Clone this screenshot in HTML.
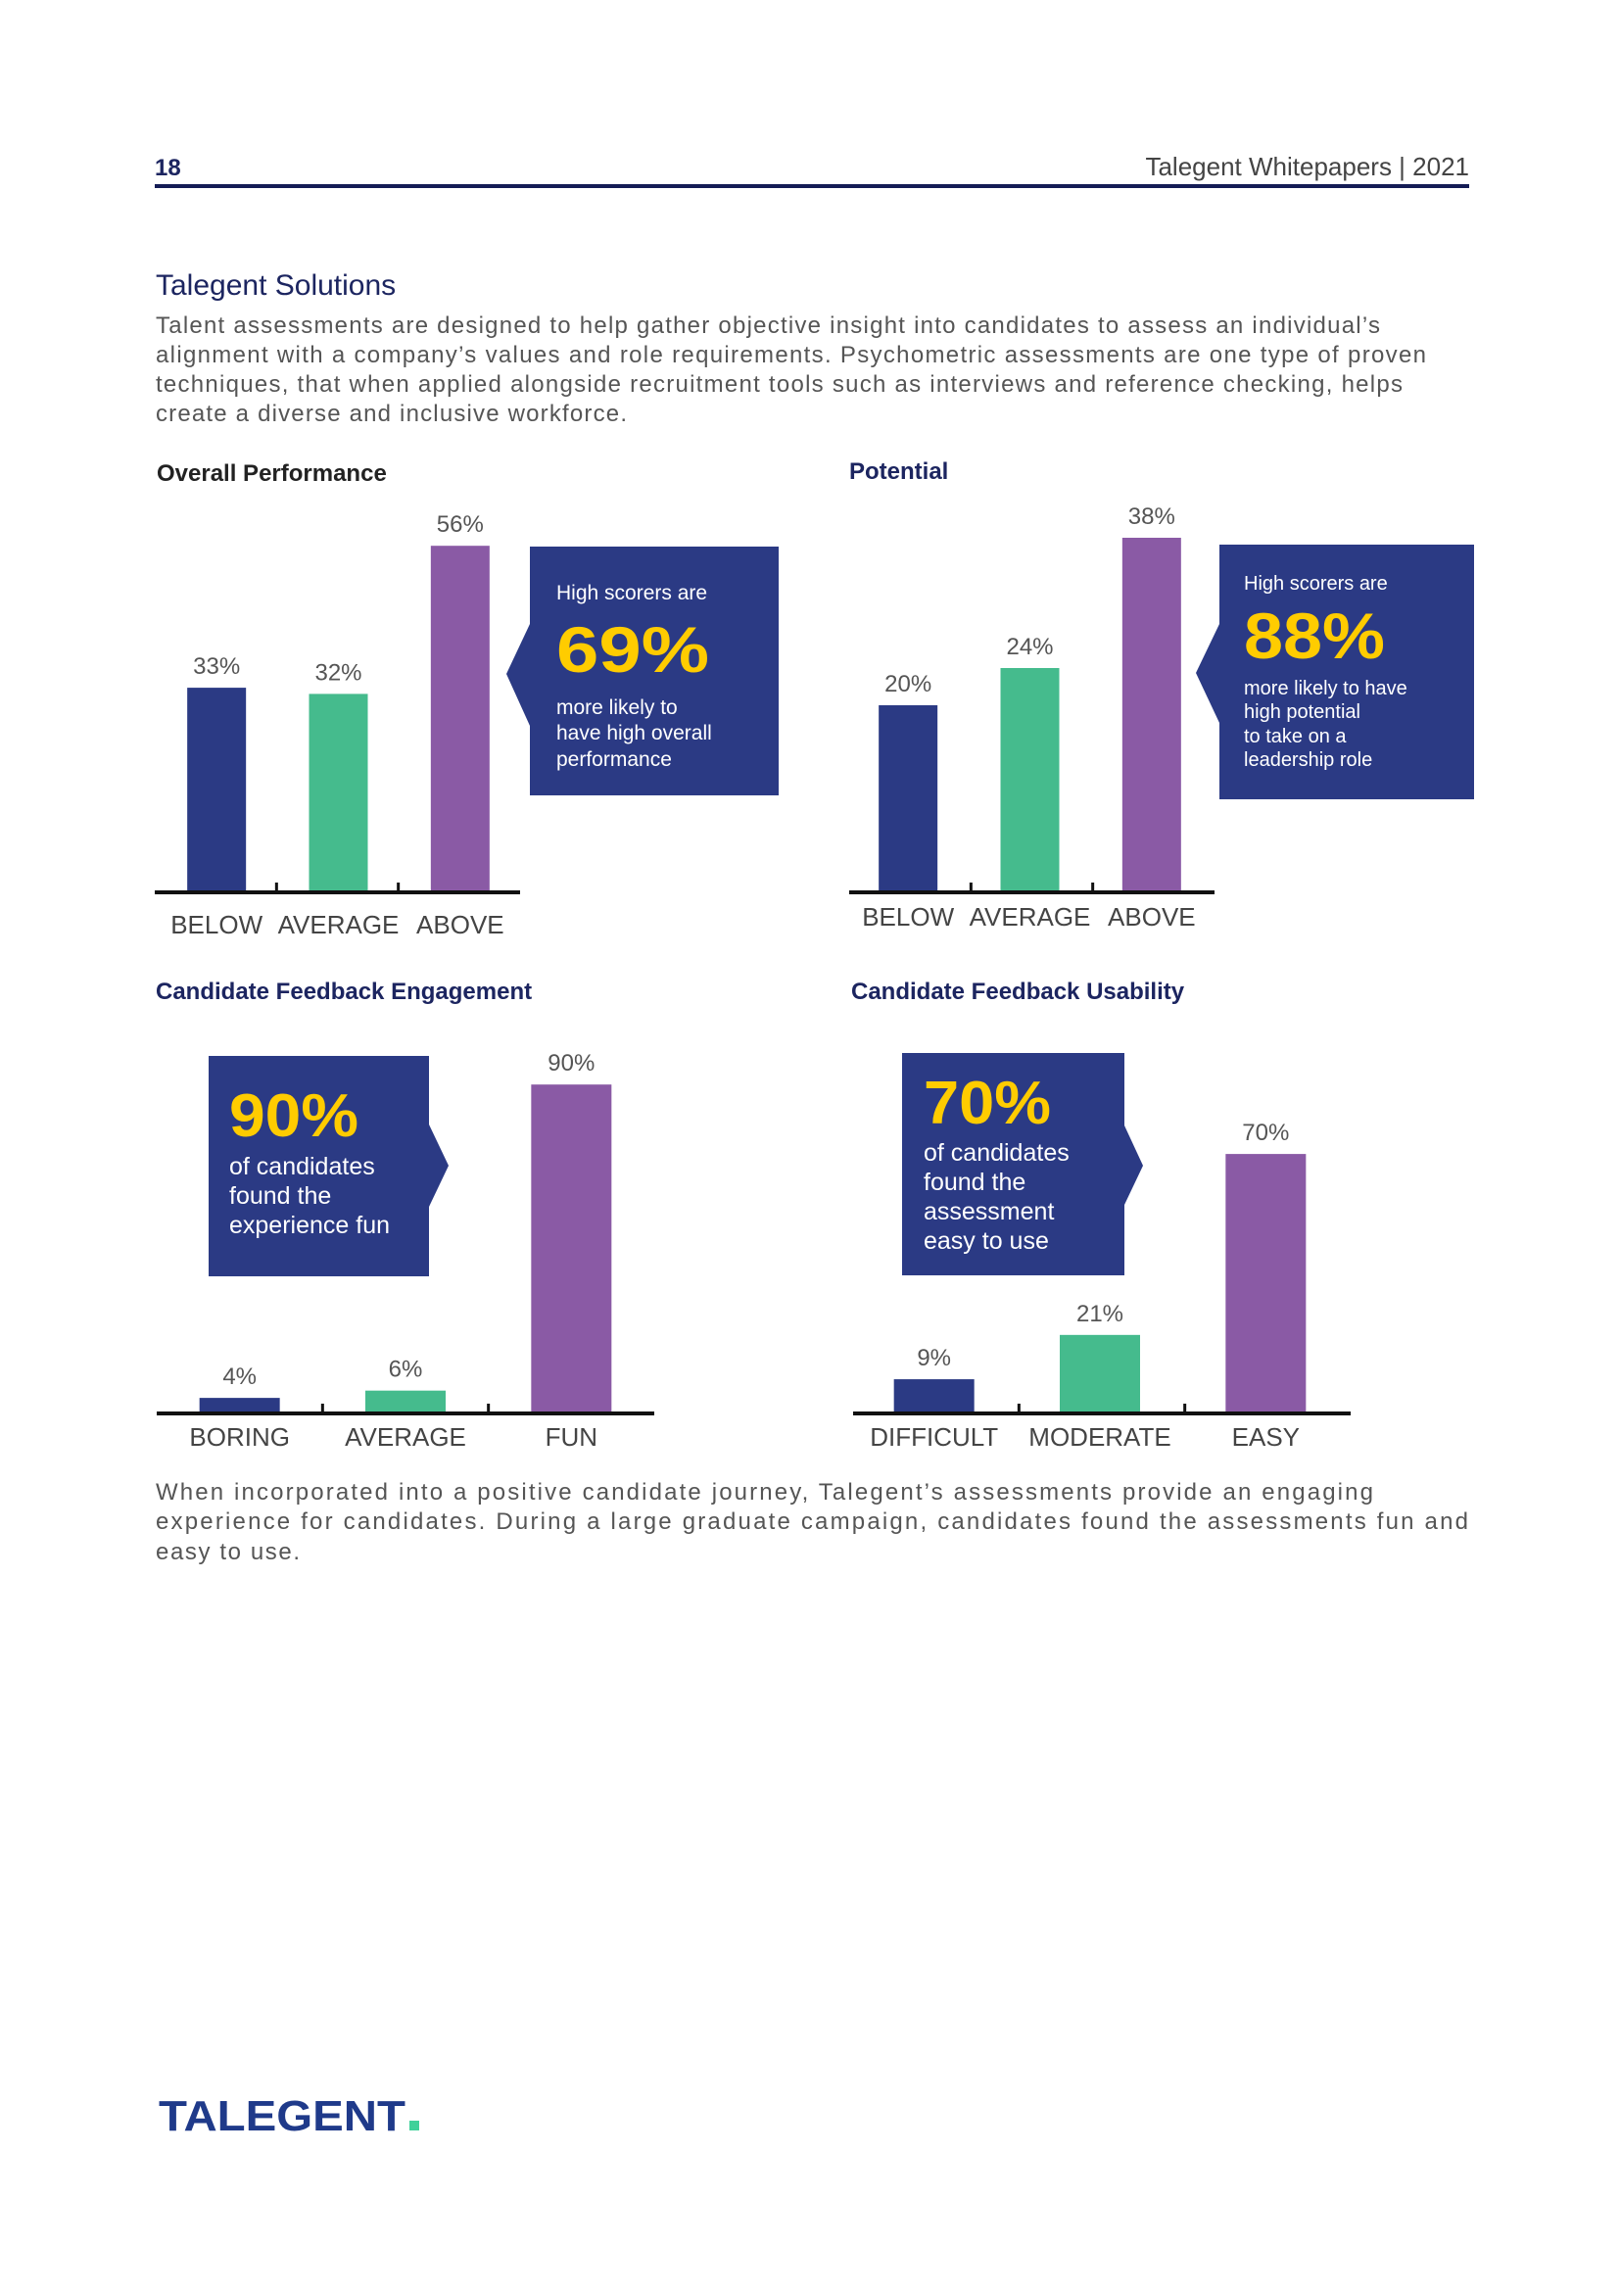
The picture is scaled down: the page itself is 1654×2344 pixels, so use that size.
<!DOCTYPE html>
<html><head><meta charset="utf-8"><style>
html,body{margin:0;padding:0;background:#fff}
body{width:1654px;height:2339px;position:relative;overflow:hidden;font-family:"Liberation Sans",sans-serif}
</style></head><body>
<svg id="page" width="1654" height="2339" viewBox="0 0 1654 2339" xmlns="http://www.w3.org/2000/svg" font-family="Liberation Sans, sans-serif">
<text x="158" y="179" font-size="24" font-weight="bold" fill="#1c2560">18</text>
<text x="1500" y="179" font-size="26" fill="#444" text-anchor="end">Talegent Whitepapers | 2021</text>
<rect x="158" y="188" width="1342" height="4" fill="#141c55"/>
<text x="159" y="301" font-size="30" fill="#1c2560">Talegent Solutions</text>
<g font-size="24" fill="#555" lengthAdjust="spacingAndGlyphs">
<text x="159" y="340" textLength="1250">Talent assessments are designed to help gather objective insight into candidates to assess an individual’s</text>
<text x="159" y="370" textLength="1297">alignment with a company’s values and role requirements. Psychometric assessments are one type of proven</text>
<text x="159" y="400" textLength="1273">techniques, that when applied alongside recruitment tools such as interviews and reference checking, helps</text>
<text x="159" y="430" textLength="481">create a diverse and inclusive workforce.</text>
</g>
<g id="charts"></g>
<g font-size="24" fill="#555">
<text x="159" y="1531" textLength="1243">When incorporated into a positive candidate journey, Talegent’s assessments provide an engaging</text>
<text x="159" y="1561" textLength="1340">experience for candidates. During a large graduate campaign, candidates found the assessments fun and</text>
<text x="159" y="1592" textLength="147">easy to use.</text>
</g>
<g>
<text x="162" y="2175" font-size="44" font-weight="bold" fill="#1f3a8a" textLength="252" lengthAdjust="spacingAndGlyphs">TALEGENT</text>
<rect x="418" y="2165" width="10" height="10" fill="#3fd19a"/>
</g>
</svg>
<script>
const perfCategories = ["BELOW","AVERAGE","ABOVE"];
const perfValues = [33,32,56];
const potCategories = ["BELOW","AVERAGE","ABOVE"];
const potValues = [20,24,38];
const engCategories = ["BORING","AVERAGE","FUN"];
const engValues = [4,6,90];
const useCategories = ["DIFFICULT","MODERATE","EASY"];
const useValues = [9,21,70];

const NS="http://www.w3.org/2000/svg";
const colors=["#2b3a84","#45bb8d","#8a5aa5"];
const root=document.getElementById('charts');
function mk(tag,attrs,parent){const e=document.createElementNS(NS,tag);for(const k in attrs)e.setAttribute(k,attrs[k]);parent.appendChild(e);return e;}

function drawChart(cfg,cats,vals){
  const g=mk('g',{},root);
  
  
  const t=mk('text',{x:cfg.titleX,y:cfg.titleY,'font-size':24,'font-weight':'bold',fill:cfg.titleColor},g);
  t.textContent=cfg.title;
  
  
  const yScale=v=>cfg.base-v*cfg.pxPerPct;
  const n=cats.length;
  const slot=(cfg.x1-cfg.x0)/n;
  const xCenter=i=>cfg.x0+slot*(i+0.5)+cfg.shift;
  for(let i=0;i<n;i++){
    const cx=xCenter(i);
    const y=yScale(vals[i]);
    const b=mk('rect',{x:cx-cfg.bw/2,y:y,width:cfg.bw,height:cfg.base-y,fill:colors[i]},g);
    
    
    const vl=mk('text',{x:cx,y:y-14,'font-size':24,fill:'#555','text-anchor':'middle'},g);
    vl.textContent=vals[i]+'%';
    
    
    const cl=mk('text',{x:cx,y:cfg.base+cfg.catDy,'font-size':26,fill:'#444','text-anchor':'middle'},g);
    cl.textContent=cats[i];
    
    
    if(i>0){
      const tk=mk('rect',{x:cfg.x0+slot*i-1.5,y:cfg.base-9,width:3,height:9,fill:'#111'},g);
      
      
    }
  }
  const ax=mk('rect',{x:cfg.x0,y:cfg.base-1,width:cfg.x1-cfg.x0,height:4,fill:'#111'},g);
  
  
  const c=cfg.callout;
  const cg=mk('g',{},g);
  
  
  mk('rect',{x:c.x,y:c.y,width:c.w,height:c.h,fill:'#2b3a84'},cg);
  mk('polygon',{points:c.ptr,fill:'#2b3a84'},cg);
  c.lines.forEach(l=>{
    const a={x:c.x+c.pad,y:l.y,'font-size':l.size,fill:l.big?'#ffcc00':'#fff','font-weight':l.big?'bold':'normal'};
    if(l.len){a.textLength=l.len;a.lengthAdjust='spacingAndGlyphs';}
    const te=mk('text',a,cg);
    te.textContent=l.t;
  });
}

drawChart({name:'overall-performance-chart',title:'Overall Performance',titleX:160,titleY:491,titleColor:'#222',
  x0:158,x1:531,shift:1,base:910,pxPerPct:6.3,bw:60,catDy:43,
  callout:{x:541,y:558,w:254,h:254,pad:27,ptr:'541,637 517,688 541,741',lines:[
    {t:'High scorers are',y:612,size:21},{t:'69%',y:686,size:66,big:true,len:156},
    {t:'more likely to',y:729,size:21},{t:'have high overall',y:755,size:21},{t:'performance',y:782,size:21}]}
},perfCategories,perfValues);

drawChart({name:'potential-chart',title:'Potential',titleX:867,titleY:489,titleColor:'#1c2560',
  x0:867,x1:1240,shift:-2,base:910,pxPerPct:9.5,bw:60,catDy:35,
  callout:{x:1245,y:556,w:260,h:260,pad:25,ptr:'1245,637 1221,687 1245,738',lines:[
    {t:'High scorers are',y:602,size:20},{t:'88%',y:672,size:66,big:true,len:144},
    {t:'more likely to have',y:709,size:20},{t:'high potential',y:733,size:20},{t:'to take on a',y:758,size:20},{t:'leadership role',y:782,size:20}]}
},potCategories,potValues);

drawChart({name:'engagement-chart',title:'Candidate Feedback Engagement',titleX:159,titleY:1020,titleColor:'#1c2560',
  x0:160,x1:668,shift:0,base:1442,pxPerPct:3.72,bw:82,catDy:34,
  callout:{x:213,y:1078,w:225,h:225,pad:21,ptr:'438,1148 458,1190 438,1232',lines:[
    {t:'90%',y:1160,size:62,big:true,len:132},
    {t:'of candidates',y:1199,size:25},{t:'found the',y:1229,size:25},{t:'experience fun',y:1259,size:25}]}
},engCategories,engValues);

drawChart({name:'usability-chart',title:'Candidate Feedback Usability',titleX:869,titleY:1020,titleColor:'#1c2560',
  x0:871,x1:1379,shift:-2,base:1442,pxPerPct:3.77,bw:82,catDy:34,
  callout:{x:921,y:1075,w:227,h:227,pad:22,ptr:'1148,1149 1167,1190 1148,1230',lines:[
    {t:'70%',y:1147,size:62,big:true,len:130},
    {t:'of candidates',y:1185,size:25},{t:'found the',y:1215,size:25},{t:'assessment',y:1245,size:25},{t:'easy to use',y:1275,size:25}]}
},useCategories,useValues);
</script>
</body></html>
